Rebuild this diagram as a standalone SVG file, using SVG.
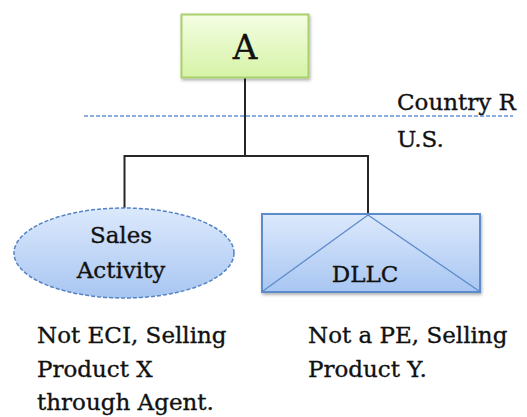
<svg xmlns="http://www.w3.org/2000/svg" width="527" height="417" viewBox="0 0 527 417">
<style>
  .t { font-family: "DejaVu Serif", "Liberation Serif", serif; font-size: 23px; fill: #111; stroke: #111; stroke-width: 0.35; }
  .c { text-anchor: middle; }
  .conn { stroke: #262626; stroke-width: 2; fill: none; }
</style>
<defs>
  <linearGradient id="gGreen" x1="0" y1="0" x2="0" y2="1">
    <stop offset="0" stop-color="#f4fde3"/>
    <stop offset="1" stop-color="#d6f3a6"/>
  </linearGradient>
  <linearGradient id="gBlue" x1="0" y1="0" x2="0" y2="1">
    <stop offset="0" stop-color="#dce9fc"/>
    <stop offset="1" stop-color="#a8c6f2"/>
  </linearGradient>
  <filter id="sh" x="-10%" y="-10%" width="130%" height="140%">
    <feDropShadow dx="1" dy="2" stdDeviation="1.5" flood-color="#000" flood-opacity="0.3"/>
  </filter>
</defs>

<line x1="84" y1="116" x2="513" y2="116" stroke="#8aaedf" stroke-width="2" stroke-dasharray="4 2"/>

<g id="connectors">
  <path class="conn" d="M245 78 V156 M124.5 156 H368 M124.5 155 V208 M368 155 V214"/>
</g>

<g id="nodeA">
  <rect x="181.5" y="14.5" width="127" height="63" fill="url(#gGreen)" stroke="#a8d06c" stroke-width="2" filter="url(#sh)"/>
  <text class="t c" x="245" y="59" style="font-size:34px">A</text>
</g>

<g id="sales">
  <ellipse cx="124" cy="253" rx="110" ry="45" fill="url(#gBlue)" stroke="#5583c4" stroke-width="1.5" stroke-dasharray="4 2"/>
  <text class="t c" x="121" y="243">Sales</text>
  <text class="t c" x="121" y="278">Activity</text>
</g>

<g id="dllc">
  <rect x="262" y="214" width="218" height="78" fill="url(#gBlue)" stroke="#5d8ccb" stroke-width="2" filter="url(#sh)"/>
  <path d="M263 291 L368 215 L479 291" fill="none" stroke="#5d8ccb" stroke-width="1.3"/>
  <text class="t c" x="365" y="282">DLLC</text>
</g>

<g id="labels">
  <text class="t" x="397" y="110">Country R</text>
  <text class="t" x="397" y="147">U.S.</text>
  <text class="t" x="37" y="343">Not ECI, Selling</text>
  <text class="t" x="37" y="377">Product X</text>
  <text class="t" x="37" y="410">through Agent.</text>
  <text class="t" x="308" y="343">Not a PE, Selling</text>
  <text class="t" x="308" y="377">Product Y.</text>
</g>
</svg>
